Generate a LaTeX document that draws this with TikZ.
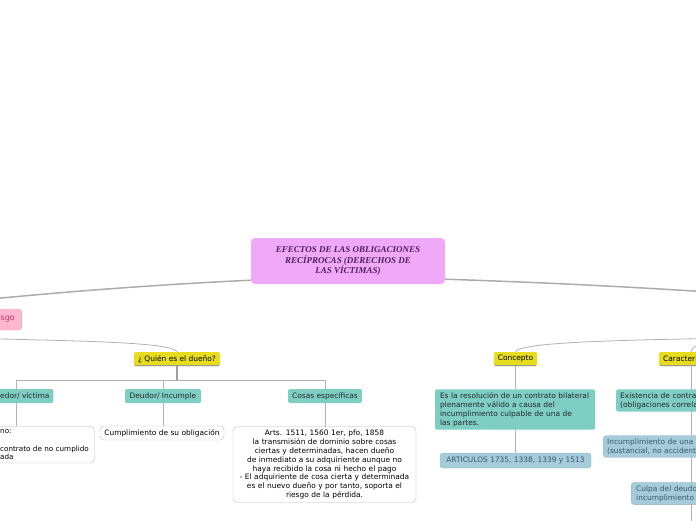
\documentclass[tikz,border=0pt]{standalone}
\usepackage{fontspec}
\setmainfont{DejaVu Sans}
\newfontfamily\titlefont{Liberation Serif}
\usetikzlibrary{backgrounds}
\definecolor{rootpink}{RGB}{240,168,248}
\definecolor{roottext}{RGB}{80,32,96}
\definecolor{riskpink}{RGB}{255,182,207}
\definecolor{risktext}{RGB}{200,48,106}
\definecolor{mapyellow}{RGB}{232,220,30}
\definecolor{mapteal}{RGB}{126,206,196}
\definecolor{mapblue}{RGB}{164,204,218}
\definecolor{bluetext}{RGB}{58,88,104}
\begin{document}
\begin{tikzpicture}[x=1pt,y=-1pt,
  every node/.style={font=\fontsize{7.45}{8.9}\selectfont,inner sep=0pt},
  ybox/.style={fill=mapyellow,rounded corners=1.5pt,inner xsep=4pt,minimum height=14pt,
    path picture={\draw[gray!80,line width=1.2pt] (path picture bounding box.south west) -- (path picture bounding box.south east);}},
  tbox/.style={fill=mapteal,rounded corners=1.5pt,inner xsep=4pt,minimum height=14pt,text=black!85},
  wbox/.style={draw=gray!55,fill=white,rounded corners=4pt,inner xsep=4pt,inner ysep=3pt},
  bbox/.style={draw=mapblue!70!gray,fill=mapblue,rounded corners=3pt,inner xsep=4pt,inner ysep=3pt,text=bluetext},
  conn/.style={draw=gray!60,line width=0.8pt},
  mainline/.style={draw=gray!65,line width=1.5pt}]
  \useasboundingbox (0,0) rectangle (696,520);
  \clip (0,0) rectangle (696,520);

  % central topic
  \node[fill=rootpink,rounded corners=4pt,minimum width=194pt,minimum height=46pt,align=center,
    text=roottext,font=\titlefont\bfseries\itshape\fontsize{9}{10.8}\selectfont] (root) at (348,261)
    {EFECTOS DE LAS OBLIGACIONES\\RECÍPROCAS (DERECHOS DE\\LAS VÍCTIMAS)};

  % left branch
  \node[fill=riskpink,draw=riskpink!80!gray,rounded corners=3pt,anchor=east,inner xsep=7pt,
    minimum height=21pt,text=risktext,font=\fontsize{8}{9}\selectfont] (riesgo) at (22,319.5) {sgo};
  \coordinate (rsub) at (-40,338);
  \node[ybox,minimum width=86pt] (quien) at (177,359) {¿ Quién es el dueño?};
  \node[tbox,anchor=west] (acreedor) at (-4,396) {edor/ víctima};
  \node[tbox,minimum width=76pt] (deudor) at (163,396) {Deudor/ Incumple};
  \node[tbox,minimum width=72pt] (cosas) at (325,396) {Cosas específicas};
  \node[wbox,anchor=north west,text width=90pt,align=left,font=\fontsize{7.2}{8.9}\selectfont] (exceptio) at (-4,426)
    {no:\\ \strut\\ contrato de no cumplido\\ ada};
  \node[wbox,minimum width=124pt,minimum height=14pt,inner ysep=0pt] (cumple) at (162,433) {Cumplimiento de su obligación};
  \node[wbox,text width=175pt,align=center] (arts) at (324.5,464.5)
    {Arts. 1511, 1560 1er, pfo, 1858\\
     la transmisión de dominio sobre cosas\\
     ciertas y determinadas, hacen dueño\\
     de inmediato a su adquiriente aunque no\\
     haya recibido la cosa ni hecho el pago\\
     - El adquiriente de cosa cierta y determinada\\
     es el nuevo dueño y por tanto, soporta el\\
     riesgo de la pérdida.};

  % right branch
  \coordinate (lend) at (-40,302);
  \coordinate (rend) at (740,294);
  \coordinate (rtop) at (740,338);
  \node[ybox,minimum width=43pt] (concepto) at (515.5,359) {Concepto};
  \node[tbox,text width=150pt,align=left,inner xsep=5pt,inner ysep=3pt] (defin) at (515,409.5)
    {Es la resolución de un contrato bilateral\\ plenamente válido a causa del\\
     incumplimiento culpable de una de\\ las partes.};
  \node[bbox,minimum width=151pt,minimum height=15pt,inner ysep=0pt] (articulos) at (515.5,460.5)
    {ARTICULOS 1735, 1338, 1339 y 1513};
  \node[ybox,anchor=west,text width=80pt,align=left] (caract) at (659,359) {Caracterí};
  \node[tbox,anchor=west,text width=110pt,align=left,inner ysep=3pt] (existe) at (616,400.5)
    {Existencia de contra\\ (obligaciones correla};
  \node[bbox,anchor=west,text width=120pt,align=left] (incumple) at (603,446.5)
    {Incumplimiento de una\\ (sustancial, no accident};
  \node[bbox,anchor=west,text width=100pt,align=left,inner xsep=5pt] (culpa) at (631,493.5)
    {Culpa del deudo\\ incumplimiento};

  \begin{scope}[on background layer]
    \draw[mainline] (root.south west) ++(0,-4) .. controls (150,285) and (60,292) .. (lend);
    \draw[mainline] (root.south east) ++(0,-5) .. controls (560,283) and (650,288) .. (rend);
    \draw[conn] (rsub) .. controls (80,341) and (172,342) .. (quien.north);
    \draw[conn] (rtop) .. controls (620,340) and (520,342) .. (concepto.north);
    \draw[conn] (rtop) .. controls (710,340) and (692,344) .. (caract.north west -| 691,0);
    \draw[gray!75,line width=1.3pt] (quien.south) -- ++(0,14) coordinate (bus);
    \draw[conn] (bus) -| (16,389) coordinate (acr);
    \draw[conn] (bus) -| (deudor.north);
    \draw[conn] (bus) -| (cosas.north);
    \draw[conn] (acr |- acreedor.south) -- (acr |- exceptio.north);
    \draw[conn] (deudor.south) -- (cumple.north -| deudor.south);
    \draw[conn] (cosas.south) -- (arts.north -| cosas.south);
    \draw[conn] (concepto.south) -- (defin.north -| concepto.south);
    \draw[conn] (defin.south -| concepto.south) -- (articulos.north -| concepto.south);
    \draw[conn] (caract.south -| 691,0) -- (691,525);
  \end{scope}
\end{tikzpicture}
\end{document}
